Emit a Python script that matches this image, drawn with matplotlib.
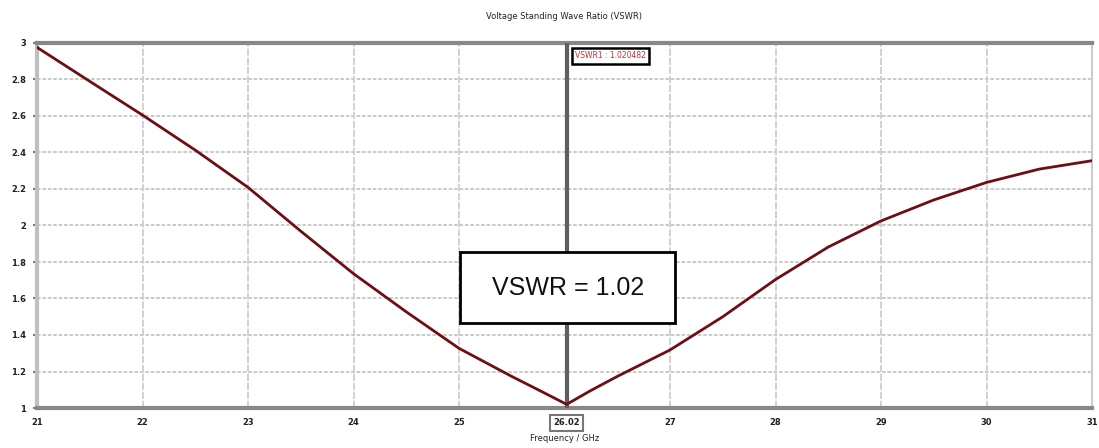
import matplotlib
matplotlib.use("Agg")
import matplotlib.pyplot as plt
from matplotlib.patches import Rectangle

# ---- data ----
freq_ghz = [21.0, 21.5, 22.0, 22.5, 23.0, 23.5, 24.0, 24.5, 25.0, 25.5, 25.75,
            26.02, 26.25, 26.5, 27.0, 27.5, 28.0, 28.5, 29.0, 29.5, 30.0, 30.5, 31.0]
vswr = [2.976, 2.790, 2.605, 2.413, 2.209, 1.969, 1.736, 1.527, 1.327, 1.173, 1.100,
        1.020, 1.096, 1.173, 1.318, 1.500, 1.704, 1.882, 2.025, 2.140, 2.236, 2.309, 2.355]

marker_freq = 26.02
marker_label = "VSWR1 : 1.020482"
annotation_text = "VSWR = 1.02"
x_ticks = [21, 22, 23, 24, 25, 26.02, 27, 28, 29, 30, 31]
x_ticklabels = ["21", "22", "23", "24", "25", "26.02", "27", "28", "29", "30", "31"]
y_ticks = [1, 1.2, 1.4, 1.6, 1.8, 2, 2.2, 2.4, 2.6, 2.8, 3]
y_ticklabels = ["1", "1.2", "1.4", "1.6", "1.8", "2", "2.2", "2.4", "2.6", "2.8", "3"]
title = "Voltage Standing Wave Ratio (VSWR)"
xlabel = "Frequency / GHz"

# ---- figure ----
W, H = 1099, 448
fig = plt.figure(figsize=(W / 100, H / 100), dpi=100)
fig.patch.set_facecolor("white")
ax = fig.add_axes([37 / W, 1 - 408 / H, (1092 - 37) / W, (408 - 43) / H])

ax.set_xlim(21, 31)
ax.set_ylim(1, 3)

# grid
for yv in y_ticks[1:-1]:
    ax.axhline(yv, color="#c6c6c6", lw=1.3, ls=(0, (2, 1)), zorder=1)
for xv in x_ticks[1:-1]:
    if xv == marker_freq:
        continue
    ax.axvline(xv, color="#cfcfcf", lw=1.3, ls=(0, (4, 1)), zorder=1)

# spines
for s in ["top", "bottom"]:
    ax.spines[s].set_color("#888888")
    ax.spines[s].set_linewidth(3)
ax.spines["left"].set_color("#c0c0c0")
ax.spines["left"].set_linewidth(3)
ax.spines["right"].set_color("#cccccc")
ax.spines["right"].set_linewidth(1.5)

# curve
ax.plot(freq_ghz, vswr, color="#6e0d14", lw=2.0, zorder=4, solid_joinstyle="round")

# marker line
ax.axvline(marker_freq, color="#5f5f5f", lw=3, zorder=3)

# marker label box
ax.text(marker_freq + 0.08, 2.93, marker_label, fontsize=5.5, color="#c0303c",
        ha="left", va="center", zorder=6,
        bbox=dict(boxstyle="square,pad=0.45", fc="white", ec="black", lw=1.8))

# big annotation box
ax.add_patch(Rectangle((25.01, 1.466), 2.04, 0.389, fc="white", ec="black",
                       lw=2, zorder=7))
ax.text(26.03, 1.66, annotation_text, fontsize=18, family="Liberation Sans",
        color="#111111", ha="center", va="center", zorder=8)

# ticks
ax.set_xticks(x_ticks)
ax.set_xticklabels(x_ticklabels)
ax.set_yticks(y_ticks)
ax.set_yticklabels(y_ticklabels)
ax.tick_params(axis="x", length=3, width=1.5, color="#222222", labelsize=6,
               pad=6, direction="inout")
ax.tick_params(axis="y", length=3, width=1.5, color="#777777", labelsize=6,
               pad=5, direction="out")
for lab in ax.get_xticklabels() + ax.get_yticklabels():
    lab.set_color("#222222")
    lab.set_fontweight("bold")
for lab in ax.get_xticklabels():
    if lab.get_text() == "26.02":
        lab.set_bbox(dict(boxstyle="square,pad=0.4", fc="white", ec="#777777", lw=1.5))

ax.set_title(title, fontsize=6, color="#222222", pad=17)
ax.set_xlabel(xlabel, fontsize=6, color="#222222", labelpad=5)

fig.savefig("out.png", dpi=100, facecolor="white")
